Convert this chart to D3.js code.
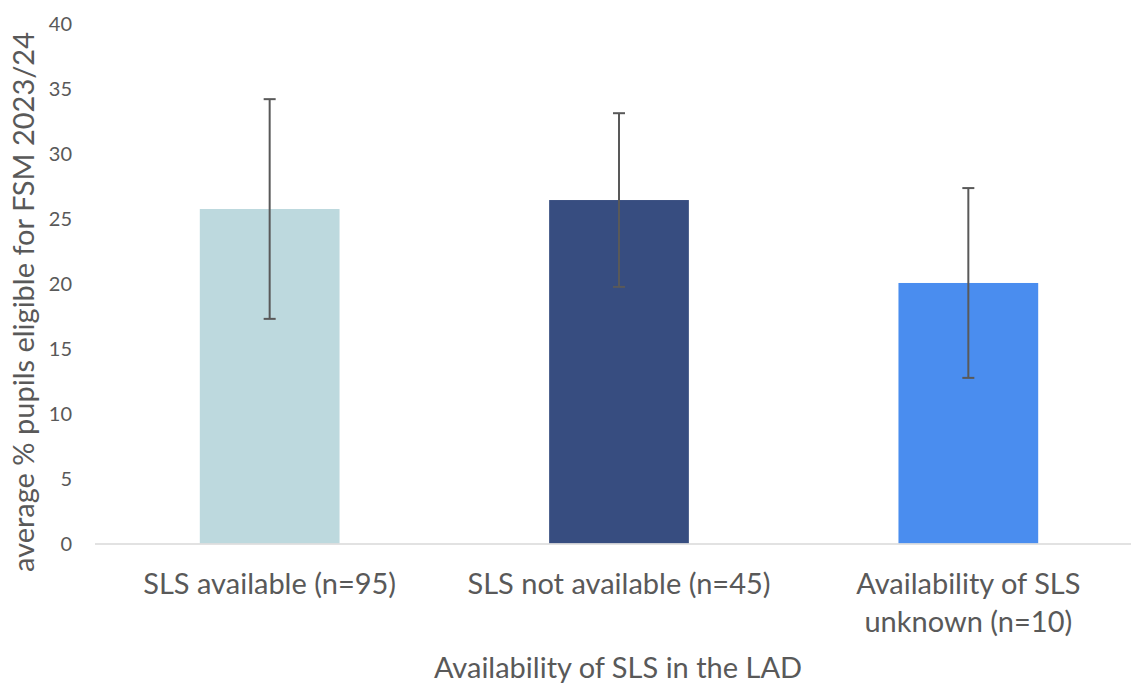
<!DOCTYPE html>
<html><head><meta charset="utf-8">
<script src="https://cdn.jsdelivr.net/npm/d3@7"></script>
<style>body{margin:0;background:#fff}svg{display:block}text{font-family:Lato,"Open Sans",sans-serif;fill:#595959}</style>
</head><body><svg id="c" width="1131" height="684"></svg>
<script>
const categories = [["SLS available (n=95)"], ["SLS not available (n=45)"], ["Availability of SLS", "unknown (n=10)"]];
const values = [25.73, 26.42, 20.04];
const errors = [8.45, 6.68, 7.3];
const colors = ["#BDD9DE", "#374D80", "#4A8DEF"];
const yTicks = [0, 5, 10, 15, 20, 25, 30, 35, 40];
const xTitle = "Availability of SLS in the LAD";
const yTitle = "average % pupils eligible for FSM 2023/24";

const svg = d3.select("#c");
const x = d3.scaleBand().domain(d3.range(values.length)).range([95, 1143]).paddingInner(0.6).paddingOuter(0.3);
const y = d3.scaleLinear().domain([0, 40]).range([543.5, 23.5]);

// y tick labels
svg.append("g").selectAll("text").data(yTicks).join("text")
  .attr("x", 72).attr("y", d => y(d)).attr("dy", "0.36em")
  .attr("text-anchor", "end").style("font-size", "20px").text(d => d);

// bars
svg.append("g").selectAll("rect").data(values).join("rect")
  .attr("x", (d, i) => x(i)).attr("width", x.bandwidth())
  .attr("y", d => y(d)).attr("height", d => y(0) - y(d))
  .attr("fill", (d, i) => colors[i]);

// axis line
svg.append("line").attr("x1", 95).attr("x2", 1131).attr("y1", y(0)+0.5).attr("y2", y(0)+0.5)
  .attr("stroke", "#D9D9D9").attr("stroke-width", 1.5);

// error bars
const eg = svg.append("g").attr("stroke", "#595959").attr("stroke-width", 2);
values.forEach((v, i) => {
  const cx = x(i) + x.bandwidth() / 2;
  eg.append("line").attr("x1", cx).attr("x2", cx).attr("y1", y(v + errors[i])).attr("y2", y(v - errors[i]));
  [v + errors[i], v - errors[i]].forEach(e => eg.append("line").attr("x1", cx - 6).attr("x2", cx + 6).attr("y1", y(e)).attr("y2", y(e)));
});

// category labels
categories.forEach((lines, i) => {
  const t = svg.append("text").attr("x", x(i) + x.bandwidth() / 2).attr("y", 594)
    .attr("text-anchor", "middle").style("font-size", "29px");
  lines.forEach((l, j) => t.append("tspan").attr("x", x(i) + x.bandwidth() / 2).attr("dy", j ? 38 : 0).text(l));
});

// titles
svg.append("text").attr("x", 618).attr("y", 678).attr("text-anchor", "middle").style("font-size", "29px").text(xTitle);
svg.append("text").attr("transform", "translate(34,302) rotate(-90)").attr("text-anchor", "middle").style("font-size", "29px").text(yTitle);
</script></body></html>
